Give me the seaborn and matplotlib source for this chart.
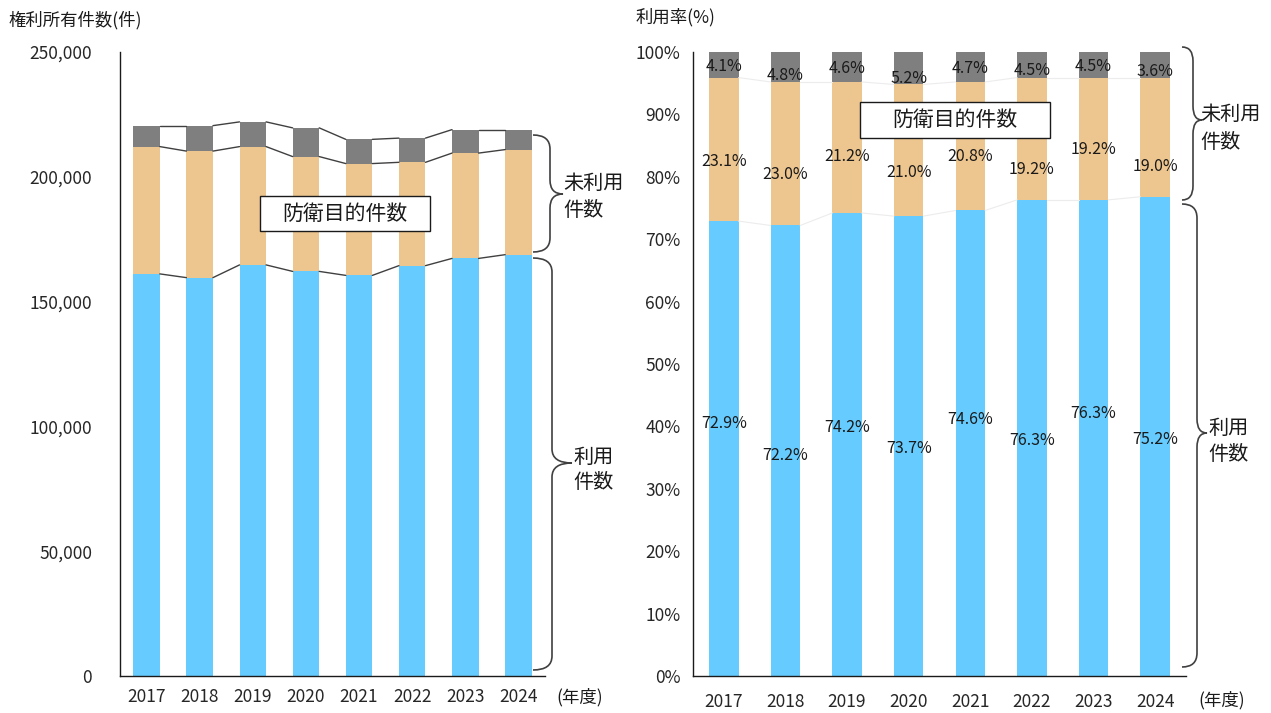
import numpy as np
import matplotlib
matplotlib.use("Agg")
import matplotlib.pyplot as plt
import seaborn as sns
from matplotlib.path import Path
from matplotlib.patches import PathPatch, Rectangle

# --- data ---
years = ["2017", "2018", "2019", "2020", "2021", "2022", "2023", "2024"]

# left: number of held rights (cumulative tops of each stack)
used_cnt = [161100, 159600, 164700, 162100, 160500, 164400, 167300, 168800]
defense_cnt = [51000, 50700, 47400, 46000, 44800, 41400, 42200, 42100]
unused_cnt = [8400, 10200, 9900, 11500, 9700, 9700, 9400, 8000]

# right: utilisation rate (bar heights, %)
used_rate = [72.9, 72.2, 74.2, 73.7, 74.6, 76.3, 76.3, 76.8]
defense_rate = [23.0, 23.0, 21.0, 21.1, 20.6, 19.6, 19.6, 19.1]
unused_rate = [4.1, 4.8, 4.8, 5.2, 4.8, 4.1, 4.1, 4.1]

# label texts shown on the right chart
used_lbl = ["72.9%", "72.2%", "74.2%", "73.7%", "74.6%", "76.3%", "76.3%", "75.2%"]
defense_lbl = ["23.1%", "23.0%", "21.2%", "21.0%", "20.8%", "19.2%", "19.2%", "19.0%"]
unused_lbl = ["4.1%", "4.8%", "4.6%", "5.2%", "4.7%", "4.5%", "4.5%", "3.6%"]

# label heights (layout, % units)
used_lbl_y = [40.4, 35.3, 39.9, 36.5, 41.1, 37.8, 42.1, 37.9]
defense_lbl_y = [82.4, 80.3, 83.3, 80.7, 83.3, 81.1, 84.3, 81.7]
unused_lbl_y = [97.6, 96.2, 97.4, 95.8, 97.4, 97.0, 97.6, 96.9]

BLUE = "#66CCFF"
ORANGE = "#EDC58F"
GRAY = "#7F7F7F"
LINE = "#404040"

sns.set_style("white")
plt.rcParams["font.family"] = ["Noto Sans CJK JP", "DejaVu Sans"]
plt.rcParams["text.color"] = "#1a1a1a"

W, H = 1271, 713
fig = plt.figure(figsize=(W / 100, H / 100), dpi=100)


def fx(x):
    return x / W


def fy(y):
    return 1 - y / H


def stack_bars(ax, low, mid, top, width):
    s1 = np.array(low, dtype=float)
    s2 = s1 + np.array(mid, dtype=float)
    s3 = s2 + np.array(top, dtype=float)
    sns.barplot(x=years, y=s3, color=GRAY, width=width, saturation=1, ax=ax,
                edgecolor="none", linewidth=0)
    sns.barplot(x=years, y=s2, color=ORANGE, width=width, saturation=1, ax=ax,
                edgecolor="none", linewidth=0)
    sns.barplot(x=years, y=s1, color=BLUE, width=width, saturation=1, ax=ax,
                edgecolor="none", linewidth=0)
    return s1, s2, s3


def series_lines(ax, levels, width, color, lw):
    for lev in levels:
        for i in range(len(years) - 1):
            ax.plot([i + width / 2, i + 1 - width / 2], [lev[i], lev[i + 1]],
                    color=color, lw=lw, zorder=3)


def style_axes(ax, pad_y, pad_x):
    sns.despine(ax=ax)
    for s in ["left", "bottom"]:
        ax.spines[s].set_color("#1a1a1a")
        ax.spines[s].set_linewidth(1.0)
    ax.set_xlim(-0.5, len(years) - 0.5)
    ax.set_xticks(range(len(years)))
    ax.set_xticklabels(years, fontsize=12.5)
    ax.set_xticks(np.arange(-0.5, len(years)), minor=True)
    ax.tick_params(axis="x", which="major", length=0, pad=pad_x)
    ax.tick_params(axis="x", which="minor", direction="in", length=6, width=1,
                   color="#1a1a1a")
    ax.tick_params(axis="y", direction="in", length=5, width=1, color="#1a1a1a",
                   pad=pad_y, labelsize=12.5)
    ax.set_xlabel("")
    ax.set_ylabel("")


def brace(x0, xv, xt, y0, y1, ym, r=14):
    pts = [(x0, y0), (xv, y0), (xv, y0 + r), (xv, ym - r), (xv, ym), (xt, ym),
           (xv, ym), (xv, ym + r), (xv, y1 - r), (xv, y1), (x0, y1)]
    codes = [Path.MOVETO, Path.CURVE3, Path.CURVE3, Path.LINETO, Path.CURVE3,
             Path.CURVE3, Path.CURVE3, Path.CURVE3, Path.LINETO, Path.CURVE3,
             Path.CURVE3]
    verts = [(fx(a), fy(b)) for a, b in pts]
    fig.add_artist(PathPatch(Path(verts, codes), fill=False, ec=LINE, lw=1.2,
                             transform=fig.transFigure, zorder=6))


def box_label(cx, cy, w, h, text):
    fig.add_artist(Rectangle((fx(cx - w / 2), fy(cy + h / 2)), w / W, h / H,
                             fc="white", ec="#1a1a1a", lw=1.0,
                             transform=fig.transFigure, zorder=6))
    fig.text(fx(cx), fy(cy), text, ha="center", va="center", fontsize=15,
             zorder=7)


# --- left: counts ---
ax1 = fig.add_axes([fx(120), fy(676), 425 / W, 624 / H])
bw1 = 0.5
l1, l2, l3 = stack_bars(ax1, used_cnt, defense_cnt, unused_cnt, bw1)
series_lines(ax1, [l1, l2, l3], bw1, LINE, 1.0)
ax1.set_ylim(0, 250000)
ax1.set_yticks(range(0, 250001, 50000))
ax1.set_yticklabels([f"{v:,}" for v in range(0, 250001, 50000)])
style_axes(ax1, pad_y=20, pad_x=9)

fig.text(fx(8), fy(20), "権利所有件数(件)", ha="left", va="center", fontsize=12.5)
fig.text(fx(580), fy(697), "(年度)", ha="center", va="center", fontsize=12.5)
box_label(344.5, 213.5, 170, 35, "防衛目的件数")

brace(533, 550, 563, 135, 252, 194)
fig.text(fx(563), fy(183), "未利用", ha="left", va="center", fontsize=14.5)
fig.text(fx(563), fy(210), "件数", ha="left", va="center", fontsize=14.5)
brace(533, 552, 572, 258, 670, 463)
fig.text(fx(573), fy(457), "利用", ha="left", va="center", fontsize=14.5)
fig.text(fx(573), fy(483), "件数", ha="left", va="center", fontsize=14.5)

# --- right: rates ---
ax2 = fig.add_axes([fx(693), fy(676), 493 / W, 624 / H])
bw2 = 0.48
r1, r2, r3 = stack_bars(ax2, used_rate, defense_rate, unused_rate, bw2)
series_lines(ax2, [r1, r2], bw2, "#ececec", 0.8)
ax2.set_ylim(0, 100)
ax2.set_yticks(range(0, 101, 10))
ax2.set_yticklabels([f"{v}%" for v in range(0, 101, 10)])
style_axes(ax2, pad_y=9, pad_x=12)

for i in range(len(years)):
    ax2.text(i, used_lbl_y[i], used_lbl[i], ha="center", va="center", fontsize=11.5, zorder=5)
    ax2.text(i, defense_lbl_y[i], defense_lbl[i], ha="center", va="center", fontsize=11.5, zorder=5)
    ax2.text(i, unused_lbl_y[i], unused_lbl[i], ha="center", va="center", fontsize=11.5, zorder=5)

fig.text(fx(636), fy(17), "利用率(%)", ha="left", va="center", fontsize=12.5)
fig.text(fx(1222), fy(700), "(年度)", ha="center", va="center", fontsize=12.5)
box_label(955, 119.5, 190, 36, "防衛目的件数")

brace(1182, 1193, 1202, 47, 200, 120)
fig.text(fx(1200), fy(114), "未利用", ha="left", va="center", fontsize=14.5)
fig.text(fx(1200), fy(142), "件数", ha="left", va="center", fontsize=14.5)
brace(1182, 1197, 1207, 204, 667, 433)
fig.text(fx(1208), fy(428), "利用", ha="left", va="center", fontsize=14.5)
fig.text(fx(1208), fy(455), "件数", ha="left", va="center", fontsize=14.5)

fig.savefig("out.png", dpi=100)
